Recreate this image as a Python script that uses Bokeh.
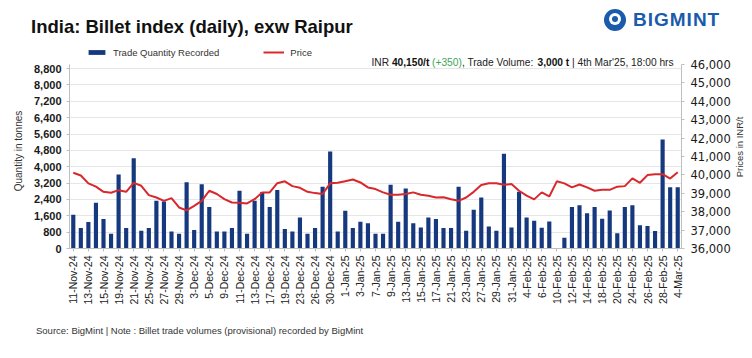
import math
from bokeh.plotting import figure
from bokeh.models import (Range1d, LinearAxis, FixedTicker, NumeralTickFormatter,
                          Label, Legend, LegendItem, ColumnDataSource, Div)
from bokeh.layouts import column, row
from bokeh.embed import file_html
from bokeh.resources import INLINE

# ---------------- data ----------------
dates = [
    "11-Nov-24", "12-Nov-24", "13-Nov-24", "14-Nov-24", "15-Nov-24", "18-Nov-24", "19-Nov-24",
    "20-Nov-24", "21-Nov-24", "22-Nov-24", "25-Nov-24", "26-Nov-24", "27-Nov-24", "28-Nov-24",
    "29-Nov-24", "2-Dec-24", "3-Dec-24", "4-Dec-24", "5-Dec-24", "6-Dec-24", "9-Dec-24",
    "10-Dec-24", "11-Dec-24", "12-Dec-24", "13-Dec-24", "16-Dec-24", "17-Dec-24", "18-Dec-24",
    "19-Dec-24", "20-Dec-24", "23-Dec-24", "24-Dec-24", "26-Dec-24", "27-Dec-24", "30-Dec-24",
    "31-Dec-24", "1-Jan-25", "2-Jan-25", "3-Jan-25", "6-Jan-25", "7-Jan-25", "8-Jan-25",
    "9-Jan-25", "10-Jan-25", "13-Jan-25", "14-Jan-25", "15-Jan-25", "16-Jan-25", "17-Jan-25",
    "20-Jan-25", "21-Jan-25", "22-Jan-25", "23-Jan-25", "24-Jan-25", "27-Jan-25", "28-Jan-25",
    "29-Jan-25", "30-Jan-25", "31-Jan-25", "3-Feb-25", "4-Feb-25", "5-Feb-25", "6-Feb-25",
    "7-Feb-25", "10-Feb-25", "11-Feb-25", "12-Feb-25", "13-Feb-25", "14-Feb-25", "17-Feb-25",
    "18-Feb-25", "19-Feb-25", "20-Feb-25", "21-Feb-25", "24-Feb-25", "25-Feb-25", "26-Feb-25",
    "27-Feb-25", "28-Feb-25", "3-Mar-25", "4-Mar-25",
]

quantity = [
    1650, 1000, 1300, 2240, 1440, 720, 3620, 1000, 4420, 870, 1000, 2340, 2300, 830,
    720, 3240, 900, 3140, 2030, 830, 830,
    1000, 2830, 720, 2340, 2750, 2030, 2860, 950, 830, 1520, 720, 1000, 3020, 4740,
    830, 1850, 1000, 1310, 1230, 720,
    720, 3120, 1310, 2940, 1230, 1030, 1520, 1440, 1000, 1000, 3020, 870, 1900, 2500,
    1080, 870, 4630, 1030, 2780, 1520, 1360,
    1010, 1320, 0, 520, 2030, 2110, 1720, 2030, 1450, 1860, 740, 2030, 2110, 1140,
    1100, 850, 5330, 3000, 3000,
]

price = [
    40120, 39970, 39540, 39360, 39080, 39030, 39170, 39080, 39570, 39410, 38900, 38770,
    38590, 38740, 38230, 38070, 38320, 38590, 39140, 38960, 38680,
    38500, 38480, 38450, 38680, 39050, 39050, 39550, 39650, 39390, 39300, 39080, 39010,
    38960, 39540, 39570, 39660, 39750, 39590, 39320, 39230,
    39050, 38920, 38920, 38960, 39050, 38920, 38870, 38770, 38790, 38680, 38590, 38770,
    39080, 39450, 39550, 39550, 39460, 39500, 39140, 38870, 38670,
    39050, 38830, 39650, 39540, 39320, 39480, 39320, 39140, 39190, 39190, 39360, 39390,
    39810, 39570, 39990, 40040, 40040, 39800, 40150,
]

qty_ticks = [0, 800, 1600, 2400, 3200, 4000, 4800, 5600, 6400, 7200, 8000, 8800]
price_ticks = [36000, 37000, 38000, 39000, 40000, 41000, 42000, 43000, 44000, 45000, 46000]
qty_bounds = (0, 9000)
price_bounds = (36000, 46000)

# ---------------- layout constants (page pixels) ----------------
PAGE_W, PAGE_H = 752, 358
HEADER_H = 42            # div with title + logo
FRAME_TOP = 42           # top of plotting frame (holds legend + price note)
DATA_TOP = 64            # where the axes' maxima sit
FRAME_BOTTOM = 248
FIG_BOTTOM = 318
FIG_H = FIG_BOTTOM - FRAME_TOP
LEFT_DIV_W, RIGHT_DIV_W = 30, 18
FIG_W = PAGE_W - LEFT_DIV_W - RIGHT_DIV_W
FRAME_LEFT = 69          # page x of the frame's left edge
FRAME_W = 612
ML = FRAME_LEFT - LEFT_DIV_W
MR = FIG_W - ML - FRAME_W
FRAME_H = FRAME_BOTTOM - FRAME_TOP
n = len(dates)
CAT_PX = FRAME_W / n
FONT = "Liberation Sans"

ratio = (FRAME_BOTTOM - FRAME_TOP) / (FRAME_BOTTOM - DATA_TOP)
left_max = qty_bounds[0] + (qty_bounds[1] - qty_bounds[0]) * ratio
right_max = price_bounds[0] + (price_bounds[1] - price_bounds[0]) * ratio


def px2x(px):
    return -0.5 + (px - FRAME_LEFT) / CAT_PX


def py2y(py):
    return (FRAME_BOTTOM - py) * left_max / FRAME_H


p = figure(width=FIG_W, height=FIG_H, output_backend="svg",
           toolbar_location=None,
           x_range=Range1d(-0.5, n - 0.5), y_range=Range1d(0, left_max),
           min_border_left=ML, min_border_right=MR, min_border_top=0,
           min_border_bottom=FIG_BOTTOM - FRAME_BOTTOM, margin=0)
p.outline_line_color = None
p.background_fill_color = "white"
p.border_fill_color = "white"
p.extra_y_ranges = {"price": Range1d(price_bounds[0], right_max)}

src = ColumnDataSource(dict(x=list(range(n)), q=quantity, price=price, date=dates))

bars = p.vbar(x="x", top="q", width=0.55, source=src, fill_color="#15387f", line_color=None)
pline = p.line(x="x", y="price", source=src, y_range_name="price",
               line_color="#d8282c", line_width=2)

# grid
p.xgrid.visible = False
p.ygrid.ticker = FixedTicker(ticks=qty_ticks)
p.ygrid.grid_line_color = "#e6e6e6"

# x axis
xa = p.xaxis[0]
shown = list(range(0, n, 2))
xa.ticker = FixedTicker(ticks=shown)
xa.major_label_overrides = {i: dates[i] for i in shown}
xa.major_label_orientation = math.pi / 2
xa.major_label_text_font = FONT
xa.major_label_text_font_size = "10.5px"
xa.major_label_text_color = "#222222"
xa.major_label_standoff = 4
xa.axis_line_color = "#bfbfbf"
xa.major_tick_line_color = "#bfbfbf"
xa.major_tick_out = 3
xa.major_tick_in = 0
xa.minor_tick_line_color = None

# left axis
ya = p.yaxis[0]
ya.bounds = qty_bounds
ya.ticker = FixedTicker(ticks=qty_ticks)
ya.formatter = NumeralTickFormatter(format="0,0")
ya.major_label_text_font = FONT
ya.major_label_text_font_size = "11px"
ya.major_label_text_font_style = "bold"
ya.major_label_text_color = "#1a1a1a"
ya.major_label_standoff = 5
ya.axis_line_color = "#bfbfbf"
ya.major_tick_line_color = "#bfbfbf"
ya.major_tick_out = 3
ya.major_tick_in = 0
ya.minor_tick_line_color = None

# right axis
ra = LinearAxis(y_range_name="price", ticker=FixedTicker(ticks=price_ticks),
                formatter=NumeralTickFormatter(format="0,0"), bounds=price_bounds)
ra.major_label_text_font = "DejaVu Sans"
ra.major_label_text_font_size = "11.5px"
ra.major_label_text_color = "#1a1a1a"
ra.major_label_standoff = 6
ra.axis_line_color = "#bfbfbf"
ra.major_tick_line_color = "#bfbfbf"
ra.major_tick_out = 3
ra.major_tick_in = 0
ra.minor_tick_line_color = None
p.add_layout(ra, "right")

# legend (inside the frame's top strip)
legend = Legend(items=[LegendItem(label="Trade Quantity Recorded", renderers=[bars]),
                       LegendItem(label="Price", renderers=[pline])],
                orientation="horizontal", location=(17, 190),
                glyph_width=21, glyph_height=6, label_height=12, label_standoff=6,
                spacing=44, padding=0, margin=0, border_line_color=None,
                background_fill_alpha=0, label_text_font=FONT,
                label_text_font_size="9.5px", label_text_color="#333333")
p.add_layout(legend)


def add_label(text, px, py, size, color="#1a1a1a", style="normal"):
    p.add_layout(Label(x=px2x(px), y=py2y(py), text=text, text_font=FONT,
                       text_font_size=size, text_font_style=style, text_color=color,
                       text_align="left", text_baseline="middle"))


# latest price note
add_label("INR", 371, 62, "10.2px", "#222222")
add_label("40,150/t", 391.4, 62, "10.2px", "#111111", "bold")
add_label("(+350)", 431.6, 62, "10.2px", "#3aa655")
add_label(", Trade Volume:", 461.4, 62, "10.2px", "#222222")
add_label("3,000 t", 537, 62, "10.2px", "#111111", "bold")
add_label("| 4th Mar'25, 18:00 hrs", 571.6, 62, "10.2px", "#222222")

# header (title + logo)
header_html = (
    '<div style="position:relative;width:752px;height:42px;">'
    '<span style="position:absolute;left:31px;top:16px;line-height:22px;white-space:nowrap;'
    'font-family:\'Liberation Sans\';font-weight:bold;font-size:18.5px;color:#111111;">'
    'India: Billet index (daily), exw Raipur</span>'
    '<span style="position:absolute;left:604px;top:9px;width:22px;height:22px;'
    'border-radius:11px;background:#1a5bab;"></span>'
    '<span style="position:absolute;left:609px;top:13px;width:12px;height:12px;'
    'border-radius:6px;background:#ffffff;"></span>'
    '<span style="position:absolute;left:612px;top:16px;width:6px;height:6px;'
    'border-radius:3px;background:#1a5bab;"></span>'
    '<span style="position:absolute;left:633px;top:9px;line-height:22px;white-space:nowrap;'
    'letter-spacing:1px;font-family:\'Liberation Sans\';font-weight:bold;font-size:19px;'
    'color:#1a5bab;">BIGMINT</span>'
    '</div>'
)
header = Div(text=header_html, width=PAGE_W, height=HEADER_H, margin=0)


def vertical_title(text, cx, cy, size, width):
    # rotated (bottom-to-top) axis title centred at (cx, cy) inside a side strip
    return Div(text=(
        f'<div style="position:relative;width:{width}px;height:{FIG_H}px;">'
        f'<span style="position:absolute;left:{cx}px;top:{cy}px;white-space:nowrap;'
        f'line-height:12px;font-family:\'Liberation Sans\';font-size:{size};color:#333333;'
        f'transform:translate(-50%,-50%) rotate(-90deg);">{text}</span></div>'),
        width=width, height=FIG_H, margin=0)


left_title = vertical_title("Quantity in tonnes", 19, 151 - FRAME_TOP, "10px", LEFT_DIV_W)
right_title = vertical_title("Prices in INR/t", 740 - (PAGE_W - RIGHT_DIV_W), 147 - FRAME_TOP,
                             "9.5px", RIGHT_DIV_W)

footer_html = (
    '<div style="position:relative;width:752px;height:40px;">'
    '<span style="position:absolute;left:36px;top:6px;line-height:14px;white-space:nowrap;'
    'font-family:\'Liberation Sans\';font-size:9.5px;color:#333333;">'
    'Source: BigMint | Note : Billet trade volumes (provisional) recorded by BigMint</span>'
    '</div>'
)
footer = Div(text=footer_html, width=PAGE_W, height=PAGE_H - FIG_BOTTOM, margin=0)

layout = column(header, row(left_title, p, right_title, spacing=0, margin=0), footer,
                spacing=0, margin=0)

open("out.html", "w").write(file_html(layout, INLINE))
